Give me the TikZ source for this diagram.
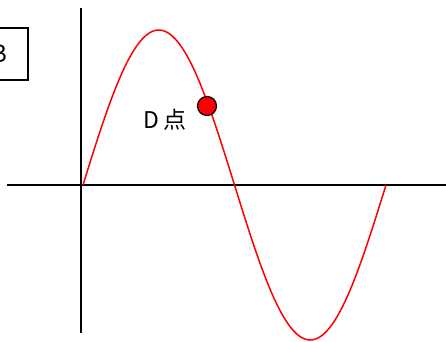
\documentclass[tikz,border=0pt]{standalone}
\usepackage{fontspec}
\setmainfont{Noto Sans CJK SC}
\usetikzlibrary{positioning}

\begin{document}
\begin{tikzpicture}[x=1pt,y=-1pt]

\useasboundingbox (0,0) rectangle (446,341);

\coordinate (L) at (7,185);
\coordinate (R) at (446,185);
\coordinate (T) at (81,8);
\coordinate (Bt) at (81,333);

\draw[line width=2pt] (L)--(R);
\draw[line width=2pt] (T)--(Bt);

\draw[red,line width=1.5pt] plot[domain=0:303,samples=120] ({83+\x},{185-155*sin(\x/303*360)});

\node[draw,line width=1.2pt,minimum width=58pt,minimum height=52pt,font=\fontsize{24}{24}\selectfont] (B) at (-1,54) {B};

\node[circle,draw,line width=1.2pt,fill=red,minimum size=19pt,inner sep=0pt] (D) at (207,106) {};
\node[font=\fontsize{23}{23}\selectfont] (Dl) at (165,120) {D 点};

\end{tikzpicture}
\end{document}
